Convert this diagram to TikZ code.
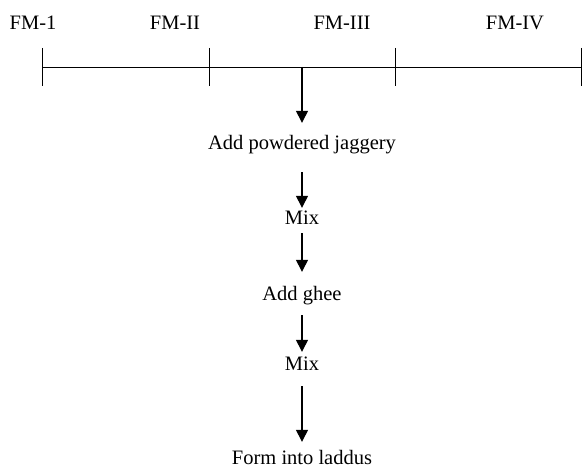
\documentclass[tikz,border=0pt]{standalone}
\usepackage{fontspec}
\setmainfont{Liberation Serif}
\usepackage{tikz}
\usetikzlibrary{arrows.meta, positioning}
\tikzset{
	flowtext/.style={font=\fontsize{20.5}{24}\selectfont, inner sep=0pt, anchor=base, text height=13.5pt, text depth=4.5pt}
}
\tikzset{
	flowarrow/.style={line width=1.4pt, -{Triangle[length=12pt, width=12pt]}}
}
\begin{document}
\begin{tikzpicture}[x=1pt, y=-1pt]
      \useasboundingbox (0,0) rectangle (582,470);
      % formulation labels above the scale
      \node[flowtext] (fm1) at (33,30) {FM-1};
      \node[flowtext] (fm2) at (175,30) {FM-II};
      \node[flowtext] (fm3) at (342,30) {FM-III};
      \node[flowtext] (fm4) at (515,30) {FM-IV};
      % scale with tick marks
      \coordinate (t1) at (42,67);
      \coordinate (t2) at (209,67);
      \coordinate (t3) at (395,67);
      \coordinate (t4) at (581,67);
      \coordinate (split) at (302,67);
      \draw[line width=0.9pt] (t1) -- (t4);
      \foreach \t in {t1,t2,t3,t4}
        \draw[line width=0.9pt] (\t) ++(0,-19) -- ++(0,38);
      % process steps
      \node[flowtext] (jaggery) at (302,150) {Add powdered jaggery};
      \node[flowtext] (mixa) at (302,225) {Mix};
      \node[flowtext] (ghee) at (302,301) {Add ghee};
      \node[flowtext] (mixb) at (302,371) {Mix};
      \node[flowtext, text depth=1pt] (laddus) at (302,465) {Form into laddus};
      \draw[flowarrow, shorten >=13.5pt] (split) -- (jaggery.north);
      \draw[flowarrow, shorten <=17.5pt, shorten >=3.5pt] (jaggery.south) -- (mixa.north);
      \draw[flowarrow, shorten <=3.5pt, shorten >=15.5pt] (mixa.south) -- (ghee.north);
      \draw[flowarrow, shorten <=9.5pt, shorten >=5.5pt] (ghee.south) -- (mixb.north);
      \draw[flowarrow, shorten <=10.5pt, shorten >=9.5pt] (mixb.south) -- (laddus.north);
    \end{tikzpicture}
\end{document}
